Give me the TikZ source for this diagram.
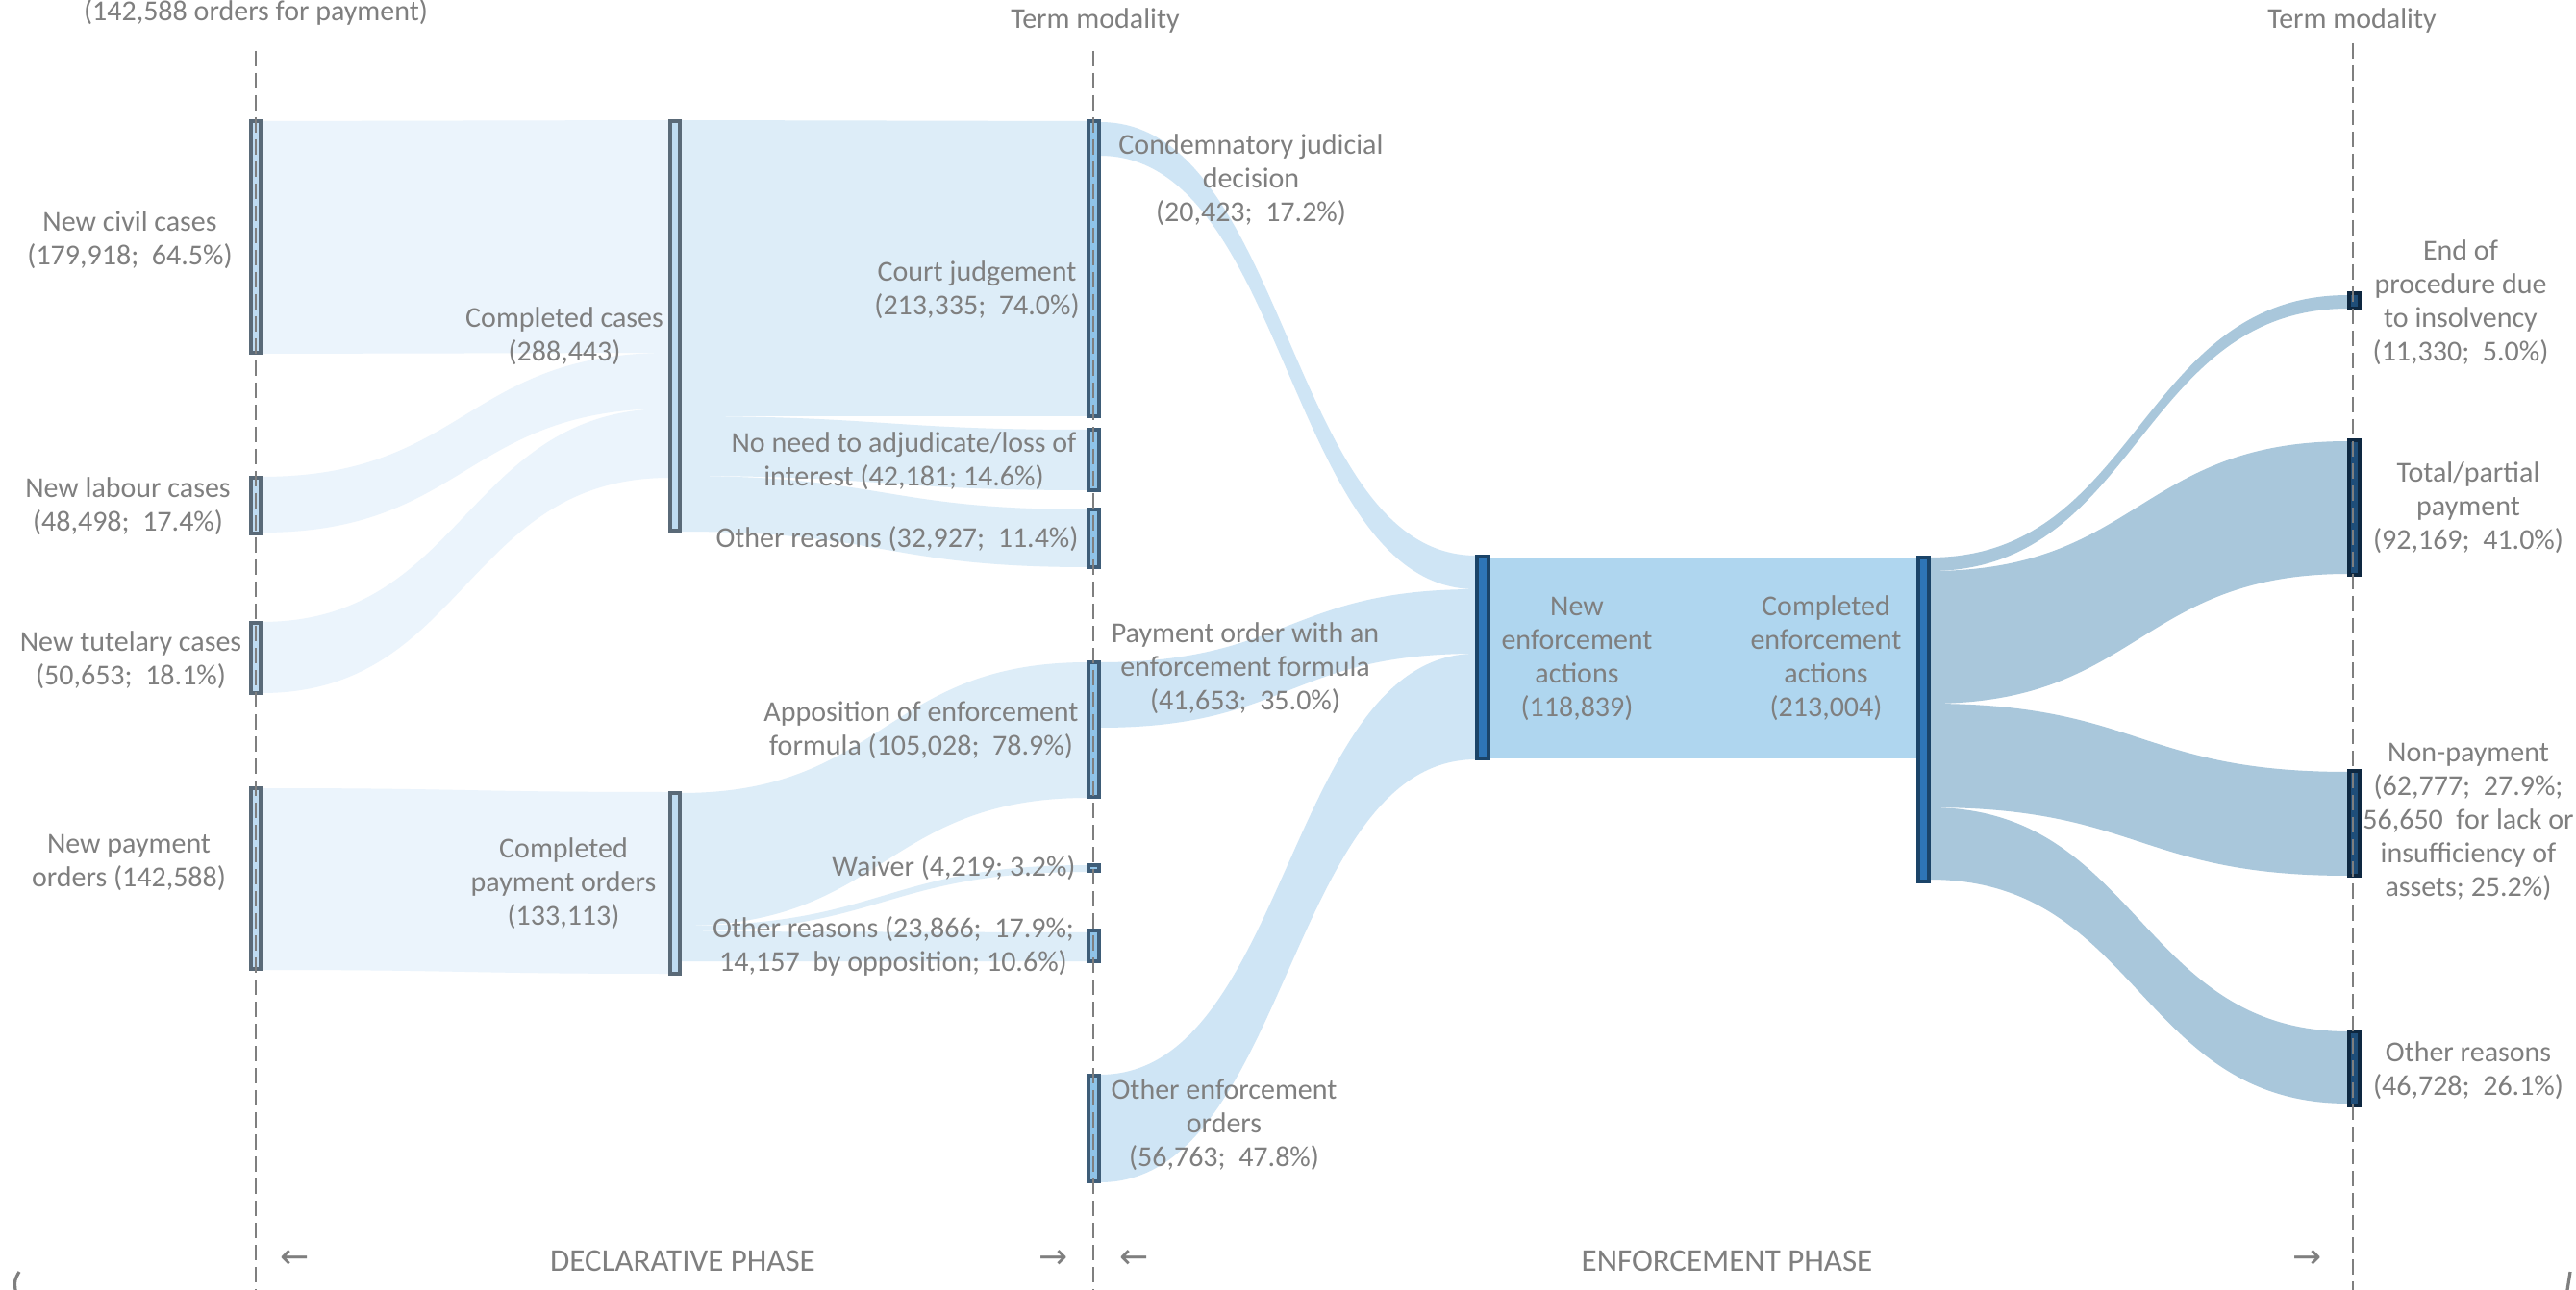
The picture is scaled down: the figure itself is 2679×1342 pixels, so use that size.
\documentclass[tikz,border=0pt]{standalone}
\usepackage{fontspec}
\setmainfont{Carlito}
\newfontfamily\arrowfont{DejaVu Sans}
\usetikzlibrary{fit}
\definecolor{txt}{HTML}{7F7F7F}
\definecolor{fa}{HTML}{EBF4FC}
\definecolor{fb}{HTML}{DDEDF8}
\definecolor{fc}{HTML}{CFE5F5}
\definecolor{fd}{HTML}{AFD6EF}
\definecolor{fe}{HTML}{A9C7DB}
\definecolor{bLdraw}{HTML}{5A6A78}
\definecolor{bLfill}{HTML}{BFDCF2}
\definecolor{bTdraw}{HTML}{3E5D78}
\definecolor{bTfill}{HTML}{8FC3E8}
\definecolor{bEdraw}{HTML}{1B4468}
\definecolor{bEfill}{HTML}{2E75B6}
\definecolor{bRdraw}{HTML}{0E2841}
\definecolor{bRfill}{HTML}{1F4E79}
\newcommand{\band}[7]{%
  \pgfmathsetmacro{\xm}{(#1+#4)/2}%
  \fill[#7] (#1,#2) .. controls (\xm,#2) and (\xm,#5) .. (#4,#5) -- (#4,#6) .. controls (\xm,#6) and (\xm,#3) .. (#1,#3) -- cycle;}
\newcommand{\sbar}[6]{\node[#2, fit={(#3,#4) (#5,#6)}] (#1) {};}
\begin{document}
\begin{tikzpicture}[x=0.5pt,y=-0.5pt,
  font=\fontsize{15}{17.5}\selectfont,
  lbl/.style={text=txt, align=center, inner sep=0pt},
  phase/.style={text=txt, inner sep=0pt, font=\fontsize{16.5}{19}\selectfont},
  barL/.style={draw=bLdraw, fill=bLfill, line width=1.6pt, inner sep=0pt, rectangle},
  barT/.style={draw=bTdraw, fill=bTfill, line width=1.6pt, inner sep=0pt, rectangle},
  barE/.style={draw=bEdraw, fill=bEfill, line width=2pt, inner sep=0pt, rectangle},
  barR/.style={draw=bRdraw, fill=bRfill, line width=2pt, inner sep=0pt, rectangle},
  guide/.style={draw=txt, line width=0.9pt, dash pattern=on 8pt off 3.5pt},
  arr/.style={text=txt, inner sep=0pt, font=\arrowfont\fontsize{18}{20}\selectfont}]
\useasboundingbox (0,0) rectangle (2679,1342);
\fill[white] (0,0) rectangle (2679,1342);

% ---- flows: new cases -> completed
\band{272}{126}{368}{696}{125}{367}{fa}
\band{272}{496}{554}{696}{367}{425}{fa}
\band{272}{647}{721}{696}{425}{497}{fa}
\band{272}{820}{1009}{696}{824}{1013}{fa}
% ---- completed -> term modality
\band{708}{125}{433}{1131}{126}{433}{fb}
\band{708}{433}{495}{1131}{447}{510}{fb}
\band{708}{495}{553}{1131}{530}{590}{fb}
\band{708}{825}{963}{1131}{689}{830}{fb}
\band{708}{963}{969}{1131}{900}{907}{fb}
\band{708}{969}{1000}{1131}{970}{1000}{fb}
% ---- term modality -> new enforcement
\band{1144}{127}{162}{1535}{578}{613}{fc}
\band{1144}{689}{757}{1535}{613}{680}{fc}
\band{1144}{1118}{1230}{1535}{680}{790}{fc}
% ---- new -> completed enforcement
\fill[fd] (1549,580) rectangle (1994,789);
% ---- completed enforcement -> outcomes
\band{2007}{580}{594}{2442}{307}{321}{fe}
\band{2007}{594}{732}{2442}{459}{597}{fe}
\band{2007}{732}{840}{2442}{803}{911}{fe}
\band{2007}{840}{915}{2442}{1073}{1148}{fe}

% ---- bars
\sbar{civ}{barL}{261}{126}{271}{367}
\sbar{lab}{barL}{261}{497}{271}{555}
\sbar{tut}{barL}{261}{648}{271}{721}
\sbar{npo}{barL}{261}{820}{271}{1008}
\sbar{ccs}{barL}{697}{126}{707}{552}
\sbar{cpo}{barL}{697}{825}{707}{1013}
\sbar{cj}{barT}{1132}{126}{1143}{433}
\sbar{nn}{barT}{1132}{447}{1143}{510}
\sbar{oa}{barT}{1132}{530}{1143}{590}
\sbar{ap}{barT}{1132}{689}{1143}{829}
\sbar{wv}{barT}{1132}{900}{1143}{906}
\sbar{ob}{barT}{1132}{968}{1143}{1000}
\sbar{oe}{barT}{1132}{1119}{1143}{1229}
\sbar{ne}{barE}{1536}{579}{1548}{789}
\sbar{ce}{barE}{1995}{580}{2006}{917}
\sbar{ins}{barR}{2443}{305}{2454}{321}
\sbar{tp}{barR}{2443}{458}{2454}{598}
\sbar{np}{barR}{2443}{802}{2454}{911}
\sbar{oc}{barR}{2443}{1073}{2454}{1150}

% ---- guide lines
\draw[guide] (266,53) -- (266,1342);
\draw[guide] (1137,53) -- (1137,1342);
\draw[guide] (2447,45) -- (2447,1342);

% ---- labels
\node[lbl] (hdr) at (266,13) {(142,588 orders for payment)};
\node[lbl] (tm1) at (1139,22) {Term modality};
\node[lbl] (tm2) at (2446,22) {Term modality};
\node[lbl] (lciv) at (135,250) {New civil cases\\(179,918;\ \ 64.5\%)};
\node[lbl] (llab) at (133,527) {New labour cases\\(48,498;\ \ 17.4\%)};
\node[lbl] (ltut) at (136,687) {New tutelary cases\\(50,653;\ \ 18.1\%)};
\node[lbl] (lnpo) at (134,897) {New payment\\orders (142,588)};
\node[lbl] (lccs) at (587,350) {Completed cases\\(288,443)};
\node[lbl] (lcpo) at (586,919) {Completed\\payment orders\\(133,113)};
\node[lbl] (lcj) at (1016,302) {Court judgement\\(213,335;\ \ 74.0\%)};
\node[lbl] (lnn) at (940,480) {No need to adjudicate/loss of\\interest (42,181; 14.6\%)};
\node[lbl] (loa) at (933,561) {Other reasons (32,927;\ \ 11.4\%)};
\node[lbl] (lcond) at (1301,187) {Condemnatory judicial\\decision\\(20,423;\ \ 17.2\%)};
\node[lbl] (lap) at (958,760) {Apposition of enforcement\\formula (105,028;\ \ 78.9\%)};
\node[lbl] (lwv) at (992,903) {Waiver (4,219; 3.2\%)};
\node[lbl] (lob) at (929,984) {Other reasons (23,866;\ \ 17.9\%;\\14,157\ \ by opposition; 10.6\%)};
\node[lbl] (lpay) at (1295,695) {Payment order with an\\enforcement formula\\(41,653;\ \ 35.0\%)};
\node[lbl] (loe) at (1273,1170) {Other enforcement\\orders\\(56,763;\ \ 47.8\%)};
\node[lbl] (lne) at (1640,685) {New\\enforcement\\actions\\(118,839)};
\node[lbl] (lce) at (1899,685) {Completed\\enforcement\\actions\\(213,004)};
\node[lbl] (lins) at (2559,315) {End of\\procedure due\\to insolvency\\(11,330;\ \ 5.0\%)};
\node[lbl] (ltp) at (2567,528) {Total/partial\\payment\\(92,169;\ \ 41.0\%)};
\node[lbl] (lnp) at (2567,855) {Non-payment\\(62,777;\ \ 27.9\%;\\56,650\ \ for lack or\\insufficiency of\\assets; 25.2\%)};
\node[lbl] (loc) at (2567,1114) {Other reasons\\(46,728;\ \ 26.1\%)};
\node[phase] (dp) at (710,1312) {DECLARATIVE PHASE};
\node[phase] (ep) at (1796,1312) {ENFORCEMENT PHASE};
\node[arr] (a1) at (307,1310) {←};
\node[arr] (a2) at (1096,1310) {→};
\node[arr] (a3) at (1180,1310) {←};
\node[arr] (a4) at (2400,1310) {→};
% corner marks
\draw[txt, line width=1.6pt] (20,1323) .. controls (15,1332) .. (16,1342);
\draw[txt, line width=1.6pt] (2673,1323) -- (2670,1342);
\end{tikzpicture}
\end{document}
